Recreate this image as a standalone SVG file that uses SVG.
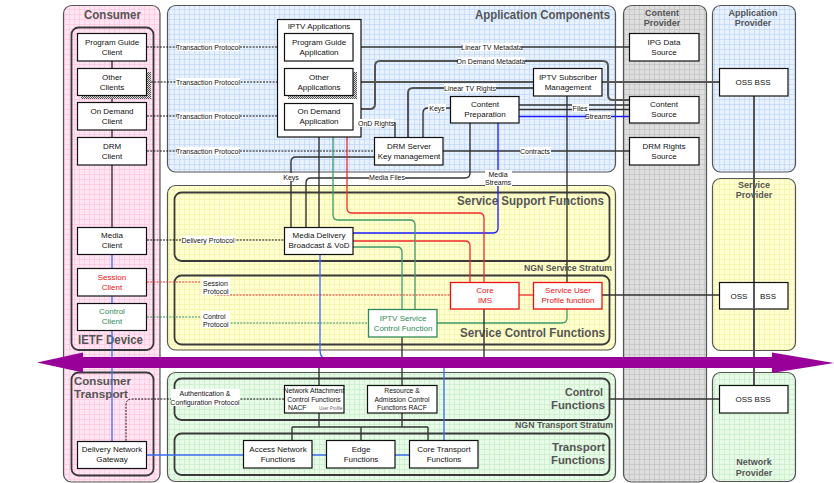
<svg xmlns="http://www.w3.org/2000/svg" width="834" height="483" viewBox="0 0 834 483">
  <defs>
    <pattern id="gPink" width="5" height="5" patternUnits="userSpaceOnUse">
      <rect width="5" height="5" fill="#ffe6f2"/>
      <path d="M4.5 0V5M0 4.5H5" stroke="#ffc4de" stroke-width="0.7"/>
    </pattern>
    <pattern id="gBlue" width="5" height="5" patternUnits="userSpaceOnUse">
      <rect width="5" height="5" fill="#e8f2ff"/>
      <path d="M4.5 0V5M0 4.5H5" stroke="#bed6fb" stroke-width="0.7"/>
    </pattern>
    <pattern id="gGray" width="5" height="5" patternUnits="userSpaceOnUse">
      <rect width="5" height="5" fill="#dedede"/>
      <path d="M4.5 0V5M0 4.5H5" stroke="#c2c2c2" stroke-width="0.7"/>
    </pattern>
    <pattern id="gYellow" width="5" height="5" patternUnits="userSpaceOnUse">
      <rect width="5" height="5" fill="#ffffd2"/>
      <path d="M4.5 0V5M0 4.5H5" stroke="#f2f2a6" stroke-width="0.7"/>
    </pattern>
    <pattern id="gGreen" width="5" height="5" patternUnits="userSpaceOnUse">
      <rect width="5" height="5" fill="#e8fbe8"/>
      <path d="M4.5 0V5M0 4.5H5" stroke="#c6ecc6" stroke-width="0.7"/>
    </pattern>
    <pattern id="hatch" width="2" height="2" patternUnits="userSpaceOnUse">
      <rect width="2" height="2" fill="#ddd"/>
      <rect width="1" height="1" fill="#555"/>
      <rect x="1" y="1" width="1" height="1" fill="#555"/>
    </pattern>
    <style>
      text { font-family: "Liberation Sans", Arial, sans-serif; }
      .panel { stroke: #555; stroke-width: 1.2; }
      .inner { fill: none; stroke: #3a3a3a; stroke-width: 1.8; }
      .box { fill: #fff; stroke: #111; stroke-width: 1.2; }
      .box-red { fill: #fff; stroke: #ee1111; stroke-width: 1.3; }
      .box-green { fill: #fff; stroke: #2e8b57; stroke-width: 1.3; }
      .t { font-size: 8px; fill: #111; text-anchor: middle; }
      .t-sm { font-size: 6.8px; fill: #111; text-anchor: middle; }
      .t-red { fill: #ee1111; }
      .t-green { fill: #2e8b57; }
      .title { font-size: 13px; font-weight: bold; fill: #555; }
      .title2 { font-size: 11.5px; font-weight: bold; fill: #555; }
      .sub { font-size: 9px; font-weight: bold; fill: #555; }
      .ptitle { font-size: 9px; font-weight: bold; fill: #555; text-anchor: middle; }
      .lbl { font-size: 7px; fill: #111; }
      .lblc { font-size: 7px; fill: #111; text-anchor: middle; }
      .lbg { fill: #fff; }
      .c { fill: none; stroke: #333; stroke-width: 1.4; }
      .c-gray { fill: none; stroke: #555; stroke-width: 2; }
      .c-blue { fill: none; stroke: #1a1aff; stroke-width: 1.3; }
      .c-lblue { fill: none; stroke: #3a6cf0; stroke-width: 1.3; }
      .c-red { fill: none; stroke: #f02a2a; stroke-width: 1.3; }
      .c-green { fill: none; stroke: #3d9a6a; stroke-width: 1.3; }
      .d { fill: none; stroke: #111; stroke-width: 1; stroke-dasharray: 2 1.2; }
      .d-red { fill: none; stroke: #f02a2a; stroke-width: 1; stroke-dasharray: 2 1.2; }
      .d-green { fill: none; stroke: #2e8b57; stroke-width: 1; stroke-dasharray: 2 1.2; }
    </style>
  </defs>

  <rect width="834" height="483" fill="#fff"/>

  <!-- Domain panels -->
  <g id="panels">
    <rect class="panel" x="63.5" y="5.5" width="96.5" height="476.5" rx="8" fill="url(#gPink)"/>
    <rect class="inner" x="71.5" y="27.5" width="82" height="322.5" rx="7"/>
    <rect class="inner" x="71.5" y="372.5" width="82" height="103" rx="7"/>
    <text class="title" x="84" y="19" textLength="57" lengthAdjust="spacingAndGlyphs">Consumer</text>
    <text class="title" x="78" y="344" textLength="65" lengthAdjust="spacingAndGlyphs">IETF Device</text>
    <text class="title2" x="74" y="385" textLength="57" lengthAdjust="spacingAndGlyphs">Consumer</text>
    <text class="title2" x="74" y="398" textLength="54" lengthAdjust="spacingAndGlyphs">Transport</text>

    <rect class="panel" x="167.5" y="5.5" width="448" height="166.5" rx="8" fill="url(#gBlue)"/>
    <text class="title" x="475" y="19" textLength="135" lengthAdjust="spacingAndGlyphs">Application Components</text>

    <rect class="panel" x="167.5" y="185.5" width="448" height="164.5" rx="8" fill="url(#gYellow)"/>
    <rect class="inner" x="174.5" y="192.5" width="435" height="68.5" rx="7"/>
    <rect class="inner" x="174.5" y="275.5" width="435" height="69" rx="7"/>
    <text class="title" x="457" y="205" textLength="147" lengthAdjust="spacingAndGlyphs">Service Support Functions</text>
    <text class="sub" x="524" y="271" textLength="88" lengthAdjust="spacingAndGlyphs">NGN Service Stratum</text>
    <text class="title" x="460" y="337" textLength="145" lengthAdjust="spacingAndGlyphs">Service Control Functions</text>

    <rect class="panel" x="167.5" y="372.5" width="448" height="109" rx="8" fill="url(#gGreen)"/>
    <rect class="inner" x="174.5" y="378.5" width="435" height="41.5" rx="7"/>
    <rect class="inner" x="174.5" y="433.5" width="435" height="41.5" rx="7"/>
    <text class="title2" x="565" y="395.5" textLength="38" lengthAdjust="spacingAndGlyphs">Control</text>
    <text class="title2" x="551" y="409" textLength="54" lengthAdjust="spacingAndGlyphs">Functions</text>
    <text class="sub" x="515" y="428" textLength="98" lengthAdjust="spacingAndGlyphs">NGN Transport Stratum</text>
    <text class="title2" x="552" y="450.5" textLength="53" lengthAdjust="spacingAndGlyphs">Transport</text>
    <text class="title2" x="551" y="464" textLength="54" lengthAdjust="spacingAndGlyphs">Functions</text>

    <rect class="panel" x="623.5" y="5.5" width="83" height="476.5" rx="8" fill="url(#gGray)"/>
    <text class="ptitle" x="662" y="16">Content</text>
    <text class="ptitle" x="662" y="26">Provider</text>

    <rect class="panel" x="712.5" y="5.5" width="83" height="166.5" rx="8" fill="url(#gBlue)"/>
    <text class="ptitle" x="753" y="16">Application</text>
    <text class="ptitle" x="753" y="26">Provider</text>

    <rect class="panel" x="712.5" y="178.5" width="83" height="172" rx="8" fill="url(#gYellow)"/>
    <text class="ptitle" x="754" y="188">Service</text>
    <text class="ptitle" x="754" y="198">Provider</text>

    <rect class="panel" x="712.5" y="372.5" width="83" height="109" rx="8" fill="url(#gGreen)"/>
    <text class="ptitle" x="754" y="465">Network</text>
    <text class="ptitle" x="754" y="476">Provider</text>
  </g>

  <!-- Connectors -->
  <g id="connectors">
    <!-- consumer device bus -->
    <path class="c" d="M112,47 V227"/>
    <path class="c-lblue" d="M112,254 V441"/>

    <!-- client/application protocols -->
    <path class="d" d="M147,47 H284"/>
    <path class="d" d="M151,82 H284"/>
    <path class="d" d="M147,116 H284"/>
    <path class="d" d="M147,151 H374"/>
    <path class="d" d="M147,240 H284"/>
    <path class="d" d="M284,399 H132 Q126,399 126,405 V441"/>
    <path class="d-red" d="M147,282 H215 V295 H450"/>
    <path class="d-green" d="M147,317 H215 V323 H368"/>

    <!-- application components -->
    <path class="c" d="M353,47 H629"/>
    <path class="c-gray" d="M357,82 H533"/>
    <path class="c-gray" d="M602,82 H719"/>
    <path class="c-gray" d="M353,109 H370 Q375,109 375,104 V66 Q375,61 380,61 H603 Q608,61 608,66 V95 Q608,100 613,100 H629"/>
    <path class="c" d="M353,123 H395 V137"/>
    <path class="c-gray" d="M408,137 V93 Q408,88 413,88 H533"/>
    <path class="c" d="M423,137 V113 Q423,108 428,108 H450"/>
    <path class="c" d="M519,105 H629"/>
    <path class="c" d="M519,109.5 H629"/>
    <path class="c-blue" d="M519,116.5 H629"/>
    <path class="c" d="M567,96 V282"/>
    <path class="c" d="M443,151 H629"/>
    <path class="c" d="M374,157 H296 Q291,157 291,162 V227"/>
    <path class="c" d="M470,123 V173 Q470,178 465,178 H311 Q306,178 306,183 V227"/>
    <path class="c" d="M319,137 V227"/>
    <path class="c-blue" d="M498,123 V228 Q498,233 493,233 H353"/>

    <!-- service stratum -->
    <path class="c-red" d="M347,137 V208 Q347,213 352,213 H479 Q484,213 484,218 V282"/>
    <path class="c-red" d="M353,241 H465 Q470,241 470,246 V282"/>
    <path class="c-green" d="M333,137 V215 Q333,220 338,220 H410 Q415,220 415,225 V309"/>
    <path class="c-green" d="M353,247 H397 Q402,247 402,252 V309"/>
    <path class="c-green" d="M437,323 H562 Q567,323 567,318 V309"/>
    <path class="c-red" d="M519,295 H533"/>
    <path class="c" d="M602,295 H719"/>
    <path class="c-gray" d="M754,96 V385"/>
    <path class="c" d="M402,337 V385"/>
    <path class="c" d="M484,309 V362"/>
    <path class="c-lblue" d="M320,254 V350 Q320,360 330,360 H439 Q444,360 444,365 V440"/>

    <!-- transport stratum -->
    <path class="c" d="M319,362 V385"/>
    <path class="c" d="M610,399 H719"/>
    <path class="c" d="M319,413 V427 M402,413 V427 M292,427 H428 M292,427 V440 M361,427 V440 M428,427 V440"/>
    <path class="c-lblue" d="M147,455 H243 M312,455 H326 M395,455 H409"/>
  </g>

  <!-- Consumer device -->
  <g id="program-guide-client">
    <rect class="box" x="77.5" y="33.5" width="69" height="27.5"/>
    <text class="t" x="112" y="44.5">Program Guide</text>
    <text class="t" x="112" y="54.5">Client</text>
  </g>
  <g id="other-clients">
    <rect x="81" y="72" width="70" height="27" fill="url(#hatch)"/>
    <rect class="box" x="77.5" y="68.5" width="69" height="27"/>
    <text class="t" x="112" y="79.5">Other</text>
    <text class="t" x="112" y="89.5">Clients</text>
  </g>
  <g id="on-demand-client">
    <rect class="box" x="77.5" y="102.5" width="69" height="27.5"/>
    <text class="t" x="112" y="113.5">On Demand</text>
    <text class="t" x="112" y="123.5">Client</text>
  </g>
  <g id="drm-client">
    <rect class="box" x="77.5" y="137.5" width="69" height="27.5"/>
    <text class="t" x="112" y="148.5">DRM</text>
    <text class="t" x="112" y="158.5">Client</text>
  </g>
  <g id="media-client">
    <rect class="box" x="77.5" y="227.5" width="69" height="27"/>
    <text class="t" x="112" y="238">Media</text>
    <text class="t" x="112" y="248">Client</text>
  </g>
  <g id="session-client">
    <rect class="box" x="77.5" y="268.5" width="69" height="27.5"/>
    <text class="t t-red" x="112" y="279.5">Session</text>
    <text class="t t-red" x="112" y="289.5">Client</text>
  </g>
  <g id="control-client">
    <rect class="box" x="77.5" y="303.5" width="69" height="27"/>
    <text class="t t-green" x="112" y="314">Control</text>
    <text class="t t-green" x="112" y="324">Client</text>
  </g>
  <g id="delivery-network-gateway">
    <rect class="box" x="77.5" y="441.5" width="69" height="27"/>
    <text class="t" x="112" y="452">Delivery Network</text>
    <text class="t" x="112" y="462">Gateway</text>
  </g>

  <!-- Application components -->
  <g id="iptv-applications">
    <rect class="box" x="277.5" y="19.5" width="83.5" height="117.5"/>
    <text class="t" x="319" y="28.5">IPTV Applications</text>
  </g>
  <g id="program-guide-application">
    <rect class="box" x="284.5" y="33.5" width="68.5" height="27.5"/>
    <text class="t" x="319" y="44.5">Program Guide</text>
    <text class="t" x="319" y="54.5">Application</text>
  </g>
  <g id="other-applications">
    <rect x="288" y="72" width="69" height="27" fill="url(#hatch)"/>
    <rect class="box" x="284.5" y="68.5" width="68.5" height="27"/>
    <text class="t" x="319" y="79.5">Other</text>
    <text class="t" x="319" y="89.5">Applications</text>
  </g>
  <g id="on-demand-application">
    <rect class="box" x="284.5" y="103.5" width="68.5" height="26.5"/>
    <text class="t" x="319" y="114">On Demand</text>
    <text class="t" x="319" y="124">Application</text>
  </g>
  <g id="drm-server">
    <rect class="box" x="374.5" y="137.5" width="68.5" height="27.5"/>
    <text class="t" x="409" y="148.5">DRM Server</text>
    <text class="t" x="409" y="158.5">Key management</text>
  </g>
  <g id="content-preparation">
    <rect class="box" x="450.5" y="96.5" width="68.5" height="26.5"/>
    <text class="t" x="485" y="107">Content</text>
    <text class="t" x="485" y="117">Preparation</text>
  </g>
  <g id="iptv-subscriber-management">
    <rect class="box" x="533.5" y="68.5" width="68.5" height="27.5"/>
    <text class="t" x="568" y="79.5">IPTV Subscriber</text>
    <text class="t" x="568" y="89.5">Management</text>
  </g>

  <!-- Content provider -->
  <g id="ipg-data-source">
    <rect class="box" x="629.5" y="33.5" width="69.5" height="27.5"/>
    <text class="t" x="664" y="44.5">IPG Data</text>
    <text class="t" x="664" y="54.5">Source</text>
  </g>
  <g id="content-source">
    <rect class="box" x="629.5" y="96.5" width="69.5" height="26.5"/>
    <text class="t" x="664" y="107">Content</text>
    <text class="t" x="664" y="117">Source</text>
  </g>
  <g id="drm-rights-source">
    <rect class="box" x="629.5" y="137.5" width="69.5" height="27.5"/>
    <text class="t" x="664" y="148.5">DRM  Rights</text>
    <text class="t" x="664" y="158.5">Source</text>
  </g>

  <!-- Providers' OSS/BSS -->
  <g id="oss-bss-application">
    <rect class="box" x="719.5" y="68.5" width="68.5" height="27.5"/>
    <text class="t" x="753" y="85">OSS  BSS</text>
  </g>
  <g id="oss-bss-service">
    <rect class="box" x="719.5" y="282.5" width="68.5" height="26.5"/>
    <path class="c-gray" d="M754,283 V308.5"/>
    <text class="t" x="739" y="298.5">OSS</text>
    <text class="t" x="768" y="298.5">BSS</text>
  </g>
  <g id="oss-bss-network">
    <rect class="box" x="719.5" y="385.5" width="68.5" height="27.5"/>
    <text class="t" x="753" y="402">OSS  BSS</text>
  </g>

  <!-- Service stratum -->
  <g id="media-delivery">
    <rect class="box" x="284.5" y="227.5" width="68.5" height="27"/>
    <text class="t" x="319" y="238">Media Delivery</text>
    <text class="t" x="319" y="248">Broadcast &amp; VoD</text>
  </g>
  <g id="core-ims">
    <rect class="box-red" x="450.5" y="282.5" width="68.5" height="26.5"/>
    <text class="t t-red" x="485" y="293">Core</text>
    <text class="t t-red" x="485" y="303">IMS</text>
  </g>
  <g id="service-user-profile">
    <rect class="box-red" x="533.5" y="282.5" width="68.5" height="26.5"/>
    <text class="t t-red" x="568" y="293">Service User</text>
    <text class="t t-red" x="568" y="303">Profile function</text>
  </g>
  <g id="iptv-service-control">
    <rect class="box-green" x="368.5" y="309.5" width="68.5" height="27.5"/>
    <text class="t t-green" x="403" y="320.5">IPTV Service</text>
    <text class="t t-green" x="403" y="330.5">Control Function</text>
  </g>

  <!-- Transport stratum -->
  <g id="nacf">
    <rect class="box" x="284.5" y="385.5" width="59.5" height="27.5"/>
    <text class="t-sm" x="314" y="393">Network Attachment</text>
    <text class="t-sm" x="314" y="401.5">Control Functions</text>
    <text class="t-sm" x="288" y="410" style="text-anchor:start">NACF</text>
    <text x="319" y="409.5" style="font-size:4.5px;fill:#666">User Profile</text>
  </g>
  <g id="racf">
    <rect class="box" x="367.5" y="385.5" width="69.5" height="27.5"/>
    <text class="t-sm" x="402" y="393">Resource &amp;</text>
    <text class="t-sm" x="402" y="401.5">Admission Control</text>
    <text class="t-sm" x="402" y="410">Functions  RACF</text>
  </g>
  <g id="access-network-functions">
    <rect class="box" x="243.5" y="440.5" width="68.5" height="27.5"/>
    <text class="t" x="278" y="451.5">Access Network</text>
    <text class="t" x="278" y="461.5">Functions</text>
  </g>
  <g id="edge-functions">
    <rect class="box" x="326.5" y="440.5" width="68.5" height="27.5"/>
    <text class="t" x="361" y="451.5">Edge</text>
    <text class="t" x="361" y="461.5">Functions</text>
  </g>
  <g id="core-transport-functions">
    <rect class="box" x="409.5" y="440.5" width="68.5" height="27.5"/>
    <text class="t" x="444" y="451.5">Core Transport</text>
    <text class="t" x="444" y="461.5">Functions</text>
  </g>

  <!-- Connector labels, drawn above the boxes they touch -->
  <g id="connector-labels">
    <rect class="lbg" x="177" y="43" width="63" height="8"/>
    <text class="lblc" x="208" y="49.5">Transaction Protocol</text>
    <rect class="lbg" x="176" y="78" width="64" height="8"/>
    <text class="lblc" x="208" y="84.5">Transaction Protocol</text>
    <rect class="lbg" x="177" y="112" width="63" height="8"/>
    <text class="lblc" x="208" y="118.5">Transaction Protocol</text>
    <rect class="lbg" x="177" y="147" width="63" height="8"/>
    <text class="lblc" x="208" y="153.5">Transaction Protocol</text>
    <rect class="lbg" x="182" y="236" width="53" height="8"/>
    <text class="lblc" x="208" y="242.5">Delivery Protocol</text>
    <rect class="lbg" x="201" y="278" width="29" height="17"/>
    <text class="lbl t-red" x="203" y="286">Session</text>
    <text class="lbl t-red" x="203" y="294">Protocol</text>
    <rect class="lbg" x="201" y="311" width="29" height="17"/>
    <text class="lbl t-green" x="203" y="319">Control</text>
    <text class="lbl t-green" x="203" y="327">Protocol</text>
    <rect class="lbg" x="171" y="389" width="69" height="17"/>
    <text class="lblc" x="205" y="396">Authentication &amp;</text>
    <text class="lblc" x="205" y="405">Configuration Protocol</text>

    <rect class="lbg" x="462" y="43" width="60" height="8"/>
    <text class="lblc" x="492" y="49.5">Linear TV Metadata</text>
    <rect class="lbg" x="458" y="57" width="67" height="8"/>
    <text class="lblc" x="491" y="63.5">On Demand Metadata</text>
    <rect class="lbg" x="444" y="84" width="52" height="8"/>
    <text class="lblc" x="470" y="90.5">Linear TV Rights</text>
    <rect class="lbg" x="428" y="104" width="18" height="8"/>
    <text class="lblc" x="437" y="110.5">Keys</text>
    <rect class="lbg" x="356" y="119" width="38" height="8"/>
    <text class="lbl" x="358" y="125.5">OnD Rights</text>
    <rect class="lbg" x="572" y="104" width="17" height="8"/>
    <text class="lblc" x="580" y="110.5">Files</text>
    <rect class="lbg" x="586" y="112" width="25" height="8"/>
    <text class="lblc" x="598" y="118.5">Streams</text>
    <rect class="lbg" x="520" y="147" width="31" height="8"/>
    <text class="lblc" x="535" y="153.5">Contracts</text>
    <rect class="lbg" x="283" y="173" width="17" height="8"/>
    <text class="lblc" x="291" y="179.5">Keys</text>
    <rect class="lbg" x="369" y="173" width="36" height="8"/>
    <text class="lblc" x="387" y="179.5">Media Files</text>
    <rect class="lbg" x="485" y="170" width="27" height="16"/>
    <text class="lblc" x="498" y="176.5">Media</text>
    <text class="lblc" x="498" y="184.5">Streams</text>
  </g>

  <!-- Service / transport stratum divider arrow -->
  <g id="stratum-arrow">
    <polygon fill="#990099" points="37,362.5 83,352.5 83,357 772,357 772,352.5 834,363 772,373 772,368 83,368 83,372.5"/>
  </g>
</svg>
